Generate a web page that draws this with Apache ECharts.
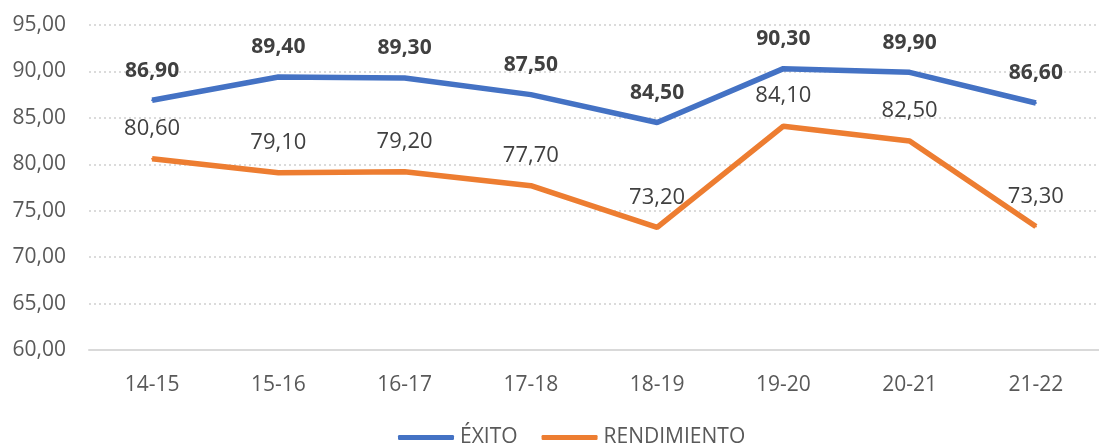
<!DOCTYPE html>
<html>
<head>
<meta charset="utf-8">
<script src="https://cdn.jsdelivr.net/npm/echarts@6/dist/echarts.min.js"></script>
<style>
  html, body { margin: 0; padding: 0; background: #fff; }
  #chart { width: 1099px; height: 445px; }
</style>
</head>
<body>
<div id="chart"></div>
<script>
var categories = ['14-15', '15-16', '16-17', '17-18', '18-19', '19-20', '20-21', '21-22'];
var exito = [86.90, 89.40, 89.30, 87.50, 84.50, 90.30, 89.90, 86.60];
var rendimiento = [80.60, 79.10, 79.20, 77.70, 73.20, 84.10, 82.50, 73.30];
var seriesNames = ['ÉXITO', 'RENDIMIENTO'];

var font = '"Open Sans", sans-serif';
function fmt(v) { return v.toFixed(2).replace('.', ','); }

var chart = echarts.init(document.getElementById('chart'));

chart.setOption({
  animation: false,
  textStyle: { fontFamily: font },
  grid: { left: 89, top: 25, width: 1028, height: 325, containLabel: false },
  legend: {
    data: seriesNames,
    top: 422,
    left: 393,
    icon: 'roundRect',
    itemWidth: 56,
    itemHeight: 5,
    itemGap: 24,
    textStyle: { fontFamily: font, fontSize: 21, color: '#595959', padding: [0, 0, 0, 1] }
  },
  xAxis: {
    type: 'category',
    data: categories,
    boundaryGap: true,
    axisLine: { lineStyle: { color: '#d9d9d9', width: 2 } },
    axisTick: { show: false },
    axisLabel: { fontFamily: font, fontSize: 21, color: '#595959', margin: 25 }
  },
  yAxis: {
    type: 'value',
    min: 60,
    max: 95,
    interval: 5,
    axisLine: { show: false },
    axisTick: { show: false },
    axisLabel: {
      fontFamily: font, fontSize: 21, color: '#595959', margin: 23,
      formatter: function (v) { return fmt(v); }
    },
    splitLine: { lineStyle: { color: '#d0d0d0', type: [2, 3], width: 1.5 } }
  },
  series: [
    {
      name: seriesNames[0],
      type: 'line',
      data: exito,
      showSymbol: true,
      symbol: 'circle',
      symbolSize: 2,
      lineStyle: { color: '#4472c4', width: 5.5 },
      itemStyle: { color: '#4472c4' },
      label: {
        show: true, position: 'top', distance: 18,
        fontFamily: font, fontSize: 21, fontWeight: 'bold', color: '#404040',
        formatter: function (p) { return fmt(p.value); }
      }
    },
    {
      name: seriesNames[1],
      type: 'line',
      data: rendimiento,
      showSymbol: true,
      symbol: 'circle',
      symbolSize: 2,
      lineStyle: { color: '#ed7d31', width: 5.5 },
      itemStyle: { color: '#ed7d31' },
      label: {
        show: true, position: 'top', distance: 18,
        fontFamily: font, fontSize: 22, color: '#404040',
        formatter: function (p) { return fmt(p.value); }
      }
    }
  ]
});
</script>
</body>
</html>
